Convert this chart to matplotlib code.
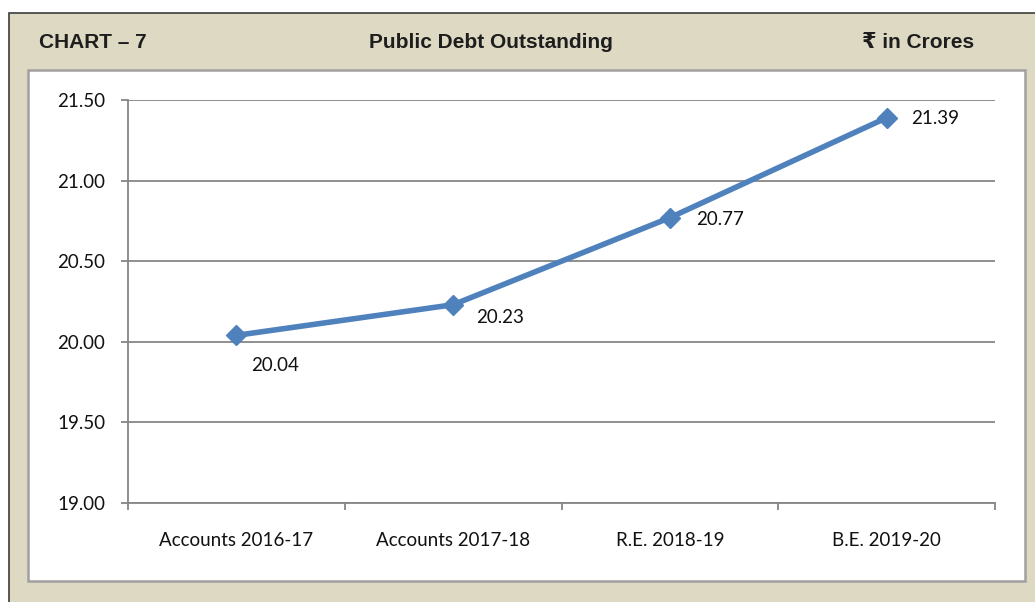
import numpy as np
import matplotlib.pyplot as plt
from matplotlib.patches import Rectangle

categories = ['Accounts 2016-17', 'Accounts 2017-18', 'R.E. 2018-19', 'B.E. 2019-20']
debt = [20.04, 20.23, 20.77, 21.39]
y_ticks = [19.00, 19.50, 20.00, 20.50, 21.00, 21.50]

# label offsets (pixels) for the value labels
label_dx = [15, 23, 26, 24]
label_dy = [-30, -13, -2, -1]

W, H = 1035, 602
fig = plt.figure(figsize=(W / 100, H / 100), dpi=100)
fig.patch.set_facecolor('white')


def box(x0, y0, x1, y1):
    """pixel box (top-left origin) -> figure fraction rect"""
    return x0 / W, 1 - y1 / H, (x1 - x0) / W, (y1 - y0) / H


# beige panel
bx, by, bw, bh = box(9, 13, 1045, 620)
fig.add_artist(Rectangle((bx, by), bw, bh, transform=fig.transFigure,
                         facecolor='#ddd9c3', edgecolor='#3c3c3c', lw=1.2, zorder=0))
# white chart box
wx, wy, ww, wh = box(28, 70, 1025, 581)
fig.add_artist(Rectangle((wx, wy), ww, wh, transform=fig.transFigure,
                         facecolor='white', edgecolor='#a0a0a0', lw=1.8, zorder=0))

hdr_y = 1 - 43 / H
hdr_font = dict(fontsize=15, fontweight='bold', family=['Liberation Sans', 'DejaVu Sans'],
                color='#1e1e1e', va='center')
fig.text(39 / W, hdr_y, 'CHART – 7', ha='left', **hdr_font)
fig.text(491 / W, hdr_y, 'Public Debt Outstanding', ha='center', **hdr_font)
fig.text(974 / W, hdr_y, '₹ in Crores', ha='right', **hdr_font)

ax = fig.add_axes(box(128, 100, 995, 503))
ax.set_facecolor('none')
x = np.arange(len(categories))
ax.plot(x, debt, color='#4f81bd', lw=4, marker='D', markersize=10,
        markerfacecolor='#4f81bd', markeredgecolor='#4f81bd', zorder=3)

for i, v in enumerate(debt):
    ax.annotate(f'{v:.2f}', (x[i], v), xytext=(label_dx[i] * 0.72, label_dy[i] * 0.72),
                textcoords='offset points', ha='left', va='center',
                fontsize=13.5, family='Lato', color='#111111')

ax.set_xlim(-0.5, len(categories) - 0.5)
ax.set_ylim(19.0, 21.5)
ax.set_yticks(y_ticks)
ax.set_yticklabels([f'{t:.2f}' for t in y_ticks], fontsize=13.5, family='Lato', color='#111111')
ax.set_xticks(x)
ax.set_xticklabels(categories, fontsize=13.5, family='Lato', color='#111111')
ax.set_xticks(np.arange(-0.5, len(categories)), minor=True)
ax.tick_params(axis='x', which='major', length=0, pad=21)
ax.tick_params(axis='x', which='minor', length=5, color='#868686', width=1.3, direction='out')
ax.tick_params(axis='y', length=5, color='#868686', width=1.3, direction='out', pad=11.5)

ax.grid(axis='y', color='#868686', lw=1.3)
ax.set_axisbelow(True)
for s in ['top', 'right']:
    ax.spines[s].set_visible(False)
for s in ['left', 'bottom']:
    ax.spines[s].set_color('#868686')
    ax.spines[s].set_linewidth(1.3)

fig.savefig('out.png', dpi=100)
